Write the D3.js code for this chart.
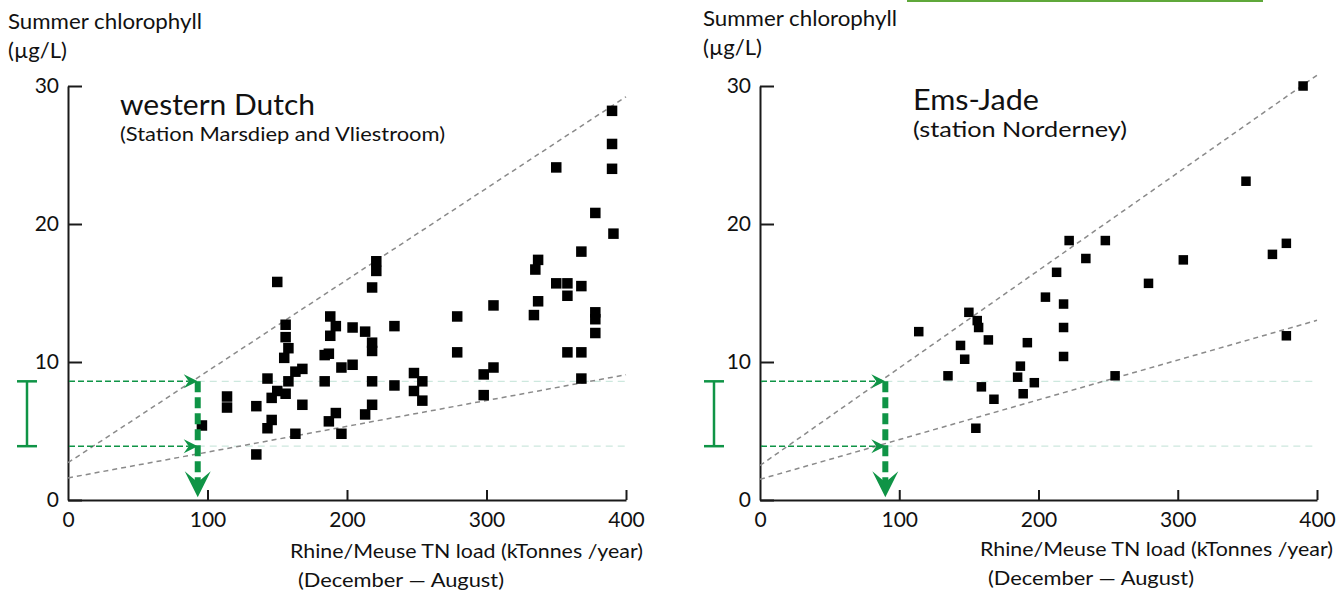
<!DOCTYPE html>
<html>
<head>
<meta charset="utf-8">
<script src="https://cdn.jsdelivr.net/npm/d3@7"></script>
<style>
  body { margin: 0; background: #fff; }
  text { font-family: Lato, "Open Sans", sans-serif; fill: #111; }
</style>
</head>
<body>
<svg id="chart" width="1338" height="591"></svg>
<script>
// ---- data ----
const xTicks = [0, 100, 200, 300, 400];
const yTicks = [0, 10, 20, 30];

// western Dutch (Marsdiep + Vliestroom)
const westX = [96, 114, 114, 135, 135, 143, 143, 146, 146, 150, 150, 156, 156, 156, 158, 158, 155, 163, 163, 168,
  168, 184, 184, 187, 187, 188, 188, 192, 192, 196, 196, 204, 204, 213, 213, 218, 218, 218, 218, 218,
  221, 221, 234, 234, 248, 248, 254, 254, 279, 279, 298, 298, 305, 305, 334, 335, 337, 337, 350, 350,
  358, 358, 358, 368, 368, 368, 368, 378, 378, 378, 378, 390, 390, 390, 391];
const westY = [5.4, 7.5, 6.7, 6.8, 3.3, 8.8, 5.2, 7.4, 5.8, 15.8, 7.9, 12.7, 11.8, 7.7, 11.0, 8.6, 10.3, 9.3, 4.8, 9.5,
  6.9, 10.5, 8.6, 10.6, 5.7, 13.3, 11.9, 12.6, 6.3, 9.6, 4.8, 12.5, 9.8, 12.2, 6.2, 11.4, 10.8, 8.6, 6.9, 15.4,
  17.3, 16.6, 12.6, 8.3, 9.2, 7.9, 8.6, 7.2, 13.3, 10.7, 9.1, 7.6, 14.1, 9.6, 13.4, 16.7, 17.4, 14.4, 24.1, 15.7,
  15.7, 14.8, 10.7, 18.0, 15.5, 10.7, 8.8, 20.8, 13.6, 13.1, 12.1, 28.2, 25.8, 24.0, 19.3];

// Ems-Jade (Norderney)
const emsX = [114, 135, 144, 147, 150, 155, 156, 157, 159, 164, 168, 185, 187, 189, 192, 197,
  205, 213, 218, 218, 218, 222, 234, 248, 255, 279, 304, 349, 368, 378, 378, 390];
const emsY = [12.2, 9.0, 11.2, 10.2, 13.6, 5.2, 13.0, 12.5, 8.2, 11.6, 7.3, 8.9, 9.7, 7.7, 11.4, 8.5,
  14.7, 16.5, 14.2, 12.5, 10.4, 18.8, 17.5, 18.8, 9.0, 15.7, 17.4, 23.1, 17.8, 18.6, 11.9, 30.0];

// dashed envelope lines, [intercept, slope]
const westLines = [[2.7, 0.0663], [1.6, 0.0187]];
const emsLines = [[2.5, 0.0707], [1.5, 0.0288]];

// chlorophyll target range and the load that reaches it
const targetLevels = [8.6, 3.9];
const westLoad = 93;
const emsLoad = 90;

const green = "#0f9446";
const svg = d3.select("#chart");

// strip across the top right of the original
svg.append("line").attr("x1", 907).attr("x2", 1263).attr("y1", 1).attr("y2", 1)
  .attr("stroke", "#5fa83a").attr("stroke-width", 2);

// text with a fixed width so it spans like the original lettering
function label(g, x, y, size, len, str) {
  g.append("text").attr("x", x).attr("y", y).attr("font-size", size)
    .attr("textLength", len).attr("lengthAdjust", "spacingAndGlyphs").text(str);
}

function panel(opt) {
  const x = d3.scaleLinear().domain([0, 400]).range(opt.xr);
  const y = d3.scaleLinear().domain([0, 30]).range([500, 86]);
  const g = svg.append("g");

  // axes
  const ya = g.append("g").attr("transform", `translate(${opt.xr[0]},0)`)
    .call(d3.axisLeft(y).tickValues(yTicks).tickSizeInner(-14).tickSizeOuter(0).tickPadding(9));
  const xa = g.append("g").attr("transform", "translate(0,500)")
    .call(d3.axisBottom(x).tickValues(xTicks).tickSizeInner(-10).tickSizeOuter(0).tickPadding(12));
  [ya, xa].forEach(a => {
    a.selectAll("path,line").attr("stroke", "#1a1a1a").attr("stroke-width", 2);
    a.selectAll("text").attr("font-size", 21).attr("font-family", "Lato, sans-serif").attr("fill", "#111");
  });
  xa.selectAll(".tick").filter(d => d === 0).select("line").remove();

  // pale continuation of target levels
  g.selectAll("line.pale").data(targetLevels).enter().append("line")
    .attr("x1", x(opt.load)).attr("x2", x(400))
    .attr("y1", d => y(d)).attr("y2", d => y(d))
    .attr("stroke", "#cde8de").attr("stroke-width", 1.3).attr("stroke-dasharray", "7,5");

  // envelope lines
  g.selectAll("line.env").data(opt.lines).enter().append("line")
    .attr("x1", x(0)).attr("x2", x(400))
    .attr("y1", d => y(d[0])).attr("y2", d => y(d[0] + d[1] * 400))
    .attr("stroke", "#8a8a8a").attr("stroke-width", 1.5).attr("stroke-dasharray", "5,4");

  // points
  const s = opt.size;
  g.selectAll("rect").data(opt.xs.map((v, i) => [v, opt.ys[i]])).enter().append("rect")
    .attr("x", d => x(d[0]) - s / 2).attr("y", d => y(d[1]) - s / 2)
    .attr("width", s).attr("height", s).attr("fill", "#000");

  // green arrows to the target levels
  const ax = x(opt.load);
  targetLevels.forEach(lv => {
    const ty = y(lv);
    g.append("line").attr("x1", x(0) + 1).attr("x2", ax - 9).attr("y1", ty).attr("y2", ty)
      .attr("stroke", green).attr("stroke-width", 1.6).attr("stroke-dasharray", "6,3");
    g.append("path")
      .attr("d", `M${ax},${ty} L${ax - 14},${ty - 7} L${ax - 9},${ty} L${ax - 14},${ty + 7} Z`)
      .attr("fill", green);
  });
  const tip = y(0.2);
  g.append("line").attr("x1", ax).attr("x2", ax).attr("y1", y(targetLevels[0])).attr("y2", tip - 14)
    .attr("stroke", green).attr("stroke-width", 6).attr("stroke-dasharray", "11,5");
  g.append("path")
    .attr("d", `M${ax},${tip} L${ax - 13},${tip - 26} L${ax},${tip - 15} L${ax + 13},${tip - 26} Z`)
    .attr("fill", green);

  // range bar on the left
  const bx = opt.barX, b1 = y(targetLevels[0]), b2 = y(targetLevels[1]);
  const bar = g.append("g").attr("stroke", green).attr("stroke-width", 2.5);
  bar.append("line").attr("x1", bx).attr("x2", bx).attr("y1", b1).attr("y2", b2);
  bar.append("line").attr("x1", bx - 10).attr("x2", bx + 10).attr("y1", b1).attr("y2", b1);
  bar.append("line").attr("x1", bx - 10).attr("x2", bx + 10).attr("y1", b2).attr("y2", b2);

  // texts
  const t = opt.text;
  label(g, t.yx, t.yy, 21, 194, "Summer chlorophyll");
  label(g, t.yx, t.yy + 29, 21, 59, "(\u00b5g/L)");
  label(g, t.tx, t.ty, 28, t.tw, opt.title);
  label(g, t.tx, t.sy, t.ss, t.sw, opt.sub);
  label(g, t.xx, t.xy, 20, 353, "Rhine/Meuse TN load (kTonnes /year)");
  label(g, t.xx + 8, t.xy + 29, 20, 206, "(December \u2014 August)");
}

panel({
  xr: [68, 626], xs: westX, ys: westY, lines: westLines, load: westLoad, size: 10.5, barX: 27,
  title: "western Dutch", sub: "(Station Marsdiep and Vliestroom)",
  text: { yx: 8, yy: 29, tx: 120, ty: 115, tw: 195, sy: 141, ss: 20, sw: 325, xx: 290, xy: 558 }
});
panel({
  xr: [760, 1317], xs: emsX, ys: emsY, lines: emsLines, load: emsLoad, size: 9.5, barX: 714,
  title: "Ems-Jade", sub: "(station Norderney)",
  text: { yx: 703, yy: 26, tx: 913, ty: 110, tw: 126, sy: 137, ss: 21, sw: 214, xx: 980, xy: 556 }
});
</script>
</body>
</html>
